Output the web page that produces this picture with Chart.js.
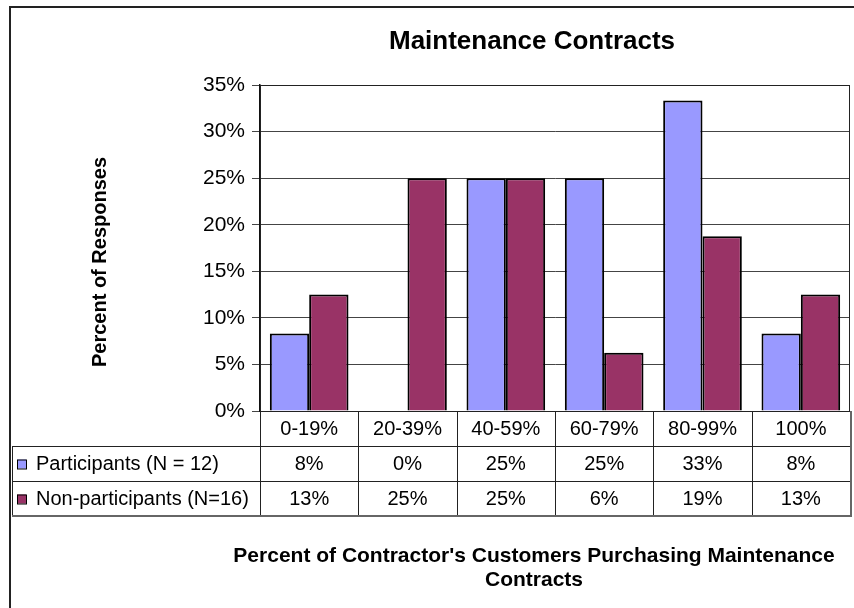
<!DOCTYPE html>
<html>
<head>
<meta charset="utf-8">
<title>Maintenance Contracts</title>
<script src="https://cdn.jsdelivr.net/npm/chart.js@4/dist/chart.umd.min.js"></script>
<style>
    html, body { margin: 0; padding: 0; background: #fff; }
    #graficoContratos { display: block; }
</style>
</head>
<body>
<canvas id="graficoContratos" width="854" height="608"></canvas>
<script>
var categories = ['0-19%', '20-39%', '40-59%', '60-79%', '80-99%', '100%'];
var participants = [8.33, 0, 25, 25, 33.33, 8.33];
var nonParticipants = [12.5, 25, 25, 6.25, 18.75, 12.5];
var seriesLabels = ['Participants (N = 12)', 'Non-participants (N=16)'];
var yTicks = [0, 5, 10, 15, 20, 25, 30, 35];

var chartTitle = 'Maintenance Contracts';
var yTitle = 'Percent of Responses';
var xTitleLines = ["Percent of Contractor's Customers Purchasing Maintenance", 'Contracts'];

document.addEventListener('DOMContentLoaded', function () {
    var fonte = 'Liberation Sans, Arial, sans-serif';
    var corParticipantes = '#9999ff';
    var corNaoParticipantes = '#993366';

    // frame, titles, plot border and the data table under the axis
    var moldura = {
        id: 'moldura',
        afterDraw: function (chart) {
            var ctx = chart.ctx;
            var area = chart.chartArea;
            var x = chart.scales.x;
            var passo = (area.right - area.left) / categories.length;
            var linhas = [area.bottom, area.bottom + 35, area.bottom + 70, area.bottom + 105];
            var esquerdaTabela = 12;

            ctx.save();

            // outer chart frame
            ctx.strokeStyle = '#222';
            ctx.lineWidth = 2;
            ctx.beginPath();
            ctx.moveTo(10, 608);
            ctx.lineTo(10, 7);
            ctx.lineTo(854, 7);
            ctx.stroke();

            // plot area border
            ctx.lineWidth = 1;
            ctx.strokeStyle = '#222';
            ctx.strokeRect(area.left + 0.5, area.top + 0.5, area.right - area.left - 1, area.bottom - area.top);

            // title
            ctx.fillStyle = '#000';
            ctx.textAlign = 'center';
            ctx.textBaseline = 'middle';
            ctx.font = 'bold 26px ' + fonte;
            ctx.fillText(chartTitle, 532, 42);

            // y axis title
            ctx.save();
            ctx.translate(100, 262);
            ctx.rotate(-Math.PI / 2);
            ctx.font = 'bold 20px ' + fonte;
            ctx.fillText(yTitle, 0, 0);
            ctx.restore();

            // x axis title
            ctx.font = 'bold 21px ' + fonte;
            xTitleLines.forEach(function (texto, i) {
                ctx.fillText(texto, 534, 556 + i * 24);
            });

            // table grid
            ctx.strokeStyle = '#222';
            ctx.lineWidth = 1;
            ctx.beginPath();
            for (var c = 0; c <= categories.length; c++) {
                var cx = Math.round(area.left + c * passo) + 0.5;
                ctx.moveTo(cx, linhas[0]);
                ctx.lineTo(cx, linhas[3]);
            }
            ctx.moveTo(esquerdaTabela + 0.5, linhas[1]);
            ctx.lineTo(esquerdaTabela + 0.5, linhas[3]);
            for (var r = 1; r < 3; r++) {
                ctx.moveTo(esquerdaTabela, Math.round(linhas[r]) + 0.5);
                ctx.lineTo(area.right, Math.round(linhas[r]) + 0.5);
            }
            ctx.stroke();
            ctx.strokeStyle = '#666';
            ctx.lineWidth = 2;
            ctx.beginPath();
            ctx.moveTo(esquerdaTabela, linhas[3]);
            ctx.lineTo(area.right + 1, linhas[3]);
            ctx.lineTo(area.right + 1, linhas[0]);
            ctx.stroke();

            // table texts
            ctx.fillStyle = '#000';
            ctx.font = '20px ' + fonte;
            ctx.textAlign = 'center';
            var series = [participants, nonParticipants];
            categories.forEach(function (cat, i) {
                var px = x.getPixelForValue(i);
                ctx.fillText(cat, px, (linhas[0] + linhas[1]) / 2 + 1);
                series.forEach(function (valores, s) {
                    ctx.fillText(Math.round(valores[i]) + '%', px, (linhas[s + 1] + linhas[s + 2]) / 2 + 1);
                });
            });

            // legend keys inside the table
            var cores = [corParticipantes, corNaoParticipantes];
            ctx.textAlign = 'left';
            seriesLabels.forEach(function (rotulo, s) {
                var meio = (linhas[s + 1] + linhas[s + 2]) / 2;
                ctx.fillStyle = cores[s];
                ctx.fillRect(17, meio - 4, 9, 9);
                ctx.strokeStyle = '#000';
                ctx.lineWidth = 1;
                ctx.strokeRect(17.5, meio - 3.5, 9, 9);
                ctx.fillStyle = '#000';
                ctx.fillText(rotulo, 36, meio + 1);
            });

            ctx.restore();
        }
    };

    new Chart(document.getElementById('graficoContratos'), {
        type: 'bar',
        data: {
            labels: categories,
            datasets: [{
                label: seriesLabels[0], data: participants, backgroundColor: corParticipantes,
                borderColor: '#000', borderWidth: 2, borderSkipped: 'bottom',
                barPercentage: 1, categoryPercentage: 0.8
            }, {
                label: seriesLabels[1], data: nonParticipants, backgroundColor: corNaoParticipantes,
                borderColor: '#000', borderWidth: 2, borderSkipped: 'bottom',
                barPercentage: 1, categoryPercentage: 0.8
            }]
        },
        options: {
            responsive: false,
            animation: false,
            devicePixelRatio: 1,
            layout: { padding: { top: 85, bottom: 197, right: 4, left: 0 } },
            plugins: { legend: { display: false }, tooltip: { enabled: false }, title: { display: false } },
            scales: {
                x: { display: false, offset: true },
                y: {
                    min: yTicks[0], max: yTicks[yTicks.length - 1],
                    afterBuildTicks: function (scale) {
                        scale.ticks = yTicks.map(function (v) { return { value: v }; });
                    },
                    afterFit: function (scale) { scale.width = 260; },
                    ticks: {
                        color: '#000', padding: 7,
                        font: { family: fonte, size: 21 },
                        callback: function (v) { return v + '%'; }
                    },
                    grid: { color: '#444', lineWidth: 1, tickLength: 8, drawTicks: true },
                    border: { display: true, color: '#111', width: 1.5 }
                }
            }
        },
        plugins: [moldura]
    });
});
</script>
</body>
</html>
